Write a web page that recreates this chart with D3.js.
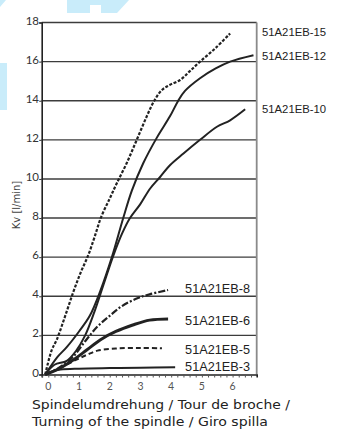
<!DOCTYPE html>
<html>
<head>
<meta charset="utf-8">
<script src="https://cdn.jsdelivr.net/npm/d3@7"></script>
<style>
  html, body { margin: 0; padding: 0; background: #fff; }
  svg { display: block; }
</style>
</head>
<body>
<svg id="chart" width="337" height="430"></svg>
<script>
// Flow coefficient Kv against spindle turns, one curve per valve size
const yTicks = [0, 2, 4, 6, 8, 10, 12, 14, 16, 18];
const xTicks = [0, 1, 2, 3, 4, 5, 6];

const eb15 = [[-0.1,0],[0.11,1.25],[0.27,1.76],[0.54,2.95],[0.81,4.2],[1.05,5.2],[1.3,6.1],[1.5,7.0],[1.72,8.05],[2.0,9.0],[2.23,9.78],[2.55,10.8],[2.88,12.0],[3.2,13.18],[3.45,14.0],[3.7,14.55],[3.95,14.8],[4.29,15.06],[4.6,15.5],[4.94,16.0],[5.45,16.7],[5.92,17.44]];
const eb12 = [[-0.1,0],[0.3,0.9],[0.6,1.4],[1.0,2.2],[1.35,3.0],[1.7,4.3],[2.07,6.0],[2.44,8.0],[2.72,9.4],[3.09,10.8],[3.53,12.1],[3.96,13.2],[4.23,14.0],[4.45,14.5],[4.94,15.15],[5.45,15.65],[5.92,16.0],[6.68,16.33]];
const eb10 = [[-0.1,0],[0.2,0.5],[0.6,0.7],[0.9,1.2],[1.2,2.0],[1.5,3.2],[1.8,4.6],[2.1,6.0],[2.4,7.2],[2.66,8.0],[2.99,8.7],[3.31,9.5],[3.64,10.1],[3.96,10.7],[4.4,11.3],[4.94,12.0],[5.49,12.67],[5.92,13.0],[6.41,13.56]];
const eb8 = [[-0.1,0],[0.3,0.3],[0.8,0.9],[1.2,1.7],[1.6,2.45],[2.0,3.0],[2.4,3.5],[2.9,3.9],[3.3,4.1],[3.9,4.32]];
const eb6 = [[-0.1,0],[0.27,0.23],[0.81,0.74],[1.25,1.25],[1.7,1.78],[2.2,2.2],[2.75,2.53],[3.3,2.78],[3.9,2.84]];
const eb5 = [[-0.1,0],[0.4,0.35],[0.9,0.75],[1.25,1.0],[1.6,1.22],[2.2,1.33],[3.0,1.36],[3.7,1.34]];
const eb3 = [[-0.1,0],[0.1,0.15],[0.4,0.25],[1.0,0.3],[2.0,0.33],[3.0,0.35],[4.13,0.37]];

const seriesNames = ["51A21EB-15","51A21EB-12","51A21EB-10","51A21EB-8","51A21EB-6","51A21EB-5","51A21EB-3"];
const seriesData  = [eb15, eb12, eb10, eb8, eb6, eb5, eb3];

const svg = d3.select("#chart");

// light blue watermark shapes in the top-left corner
const wm = svg.append("g").attr("fill", "#c9ecfa");
wm.append("path").attr("d", "M0,0 L6,0 L0,7 Z");
wm.append("path").attr("d", "M67,0 L129,0 L117,13 L101,13 L101,5 L90,5 L90,13 L67,13 Z");
wm.append("path").attr("d", "M0,63 L7,63 L7,110 L0,110 Z");

const x = d3.scaleLinear().domain([-0.215, 6.785]).range([41.7, 256.7]);
const y = d3.scaleLinear().domain([0, 18]).range([374.5, 22.5]);

// horizontal grid
svg.append("g")
  .selectAll("line")
  .data(yTicks.filter(v => v > 0))
  .join("line")
  .attr("x1", x.range()[0]).attr("x2", x.range()[1])
  .attr("y1", d => y(d)).attr("y2", d => y(d))
  .attr("stroke", "#3c3c3c").attr("stroke-width", 1.4);

// right border
svg.append("line")
  .attr("x1", x.range()[1]).attr("x2", x.range()[1])
  .attr("y1", y(18)).attr("y2", y(0))
  .attr("stroke", "#8a8a8a").attr("stroke-width", 1.8);

// bottom axis with minor ticks
const minor = d3.range(-0.2, 6.79, 0.2);
const xAxisG = svg.append("g").attr("transform", `translate(0,${y(0)})`)
  .call(d3.axisBottom(x).tickValues(minor).tickSize(3).tickFormat(""));
xAxisG.select(".domain").attr("stroke", "#222").attr("stroke-width", 1.6);
xAxisG.selectAll(".tick line").attr("stroke", "#555").attr("stroke-width", 1);

svg.append("g")
  .selectAll("text")
  .data(xTicks)
  .join("text")
  .attr("x", d => x(d)).attr("y", 389.5)
  .attr("text-anchor", "middle")
  .attr("font-family", "Lato, 'DejaVu Sans', sans-serif")
  .attr("font-size", 10.5)
  .attr("fill", "#555")
  .text(d => d);

// left axis
const yAxisG = svg.append("g").attr("transform", `translate(${x.range()[0]},0)`)
  .call(d3.axisLeft(y).tickValues(yTicks).tickSize(2.5).tickFormat(""));
yAxisG.select(".domain").attr("stroke", "#222").attr("stroke-width", 1.6);
yAxisG.selectAll(".tick line").attr("stroke", "#333");

svg.append("g")
  .selectAll("text")
  .data(yTicks)
  .join("text")
  .attr("x", 39).attr("y", d => y(d) + 2)
  .attr("text-anchor", "end")
  .attr("font-family", "Lato, 'DejaVu Sans', sans-serif")
  .attr("font-size", 11.5)
  .attr("fill", "#333")
  .text(d => d);

// y axis title
svg.append("text")
  .attr("transform", "translate(20,205) rotate(-90)")
  .attr("text-anchor", "middle")
  .attr("font-family", "'DejaVu Sans', sans-serif")
  .attr("font-size", 10)
  .attr("fill", "#444")
  .text("Kv [l/min]");

// curves
const line = d3.line().x(d => x(d[0])).y(d => y(d[1])).curve(d3.curveCatmullRom.alpha(0.5));
const styles = [
  { w: 2.2, dash: "3,1.6" },
  { w: 2.0, dash: null },
  { w: 2.0, dash: null },
  { w: 2.2, dash: "7,2,2,2" },
  { w: 3.0, dash: null },
  { w: 2.0, dash: "5,3" },
  { w: 2.0, dash: null }
];
svg.append("g")
  .selectAll("path")
  .data(seriesData)
  .join("path")
  .attr("d", line)
  .attr("fill", "none")
  .attr("stroke", "#222")
  .attr("stroke-width", (d, i) => styles[i].w)
  .attr("stroke-dasharray", (d, i) => styles[i].dash)
  .attr("stroke-linejoin", "round");

// labels beside the plot
const outer = [[0, 36], [1, 59.5], [2, 112.5]];
svg.append("g")
  .selectAll("text")
  .data(outer)
  .join("text")
  .attr("x", 262).attr("y", d => d[1])
  .attr("font-family", "'Liberation Sans', Arial, sans-serif")
  .attr("font-size", 11.3)
  .attr("fill", "#222")
  .text(d => seriesNames[d[0]]);

// labels inside the plot
const inner = [[3, 293.3], [4, 325], [5, 354.3], [6, 371]];
svg.append("g")
  .selectAll("text")
  .data(inner)
  .join("text")
  .attr("x", 250).attr("y", d => d[1])
  .attr("text-anchor", "end")
  .attr("font-family", "'Liberation Sans', Arial, sans-serif")
  .attr("font-size", 12.7)
  .attr("fill", "#222")
  .text(d => seriesNames[d[0]]);

// x axis title
const titleLines = ["Spindelumdrehung / Tour de broche /", "Turning of the spindle / Giro spilla"];
const titleWidths = [258, 236];
svg.append("g")
  .selectAll("text")
  .data(titleLines)
  .join("text")
  .attr("x", 32).attr("y", (d, i) => 408.5 + i * 17)
  .attr("font-family", "'DejaVu Sans', sans-serif")
  .attr("font-size", 13)
  .attr("fill", "#222")
  .attr("textLength", (d, i) => titleWidths[i])
  .attr("lengthAdjust", "spacingAndGlyphs")
  .text(d => d);
</script>
</body>
</html>
